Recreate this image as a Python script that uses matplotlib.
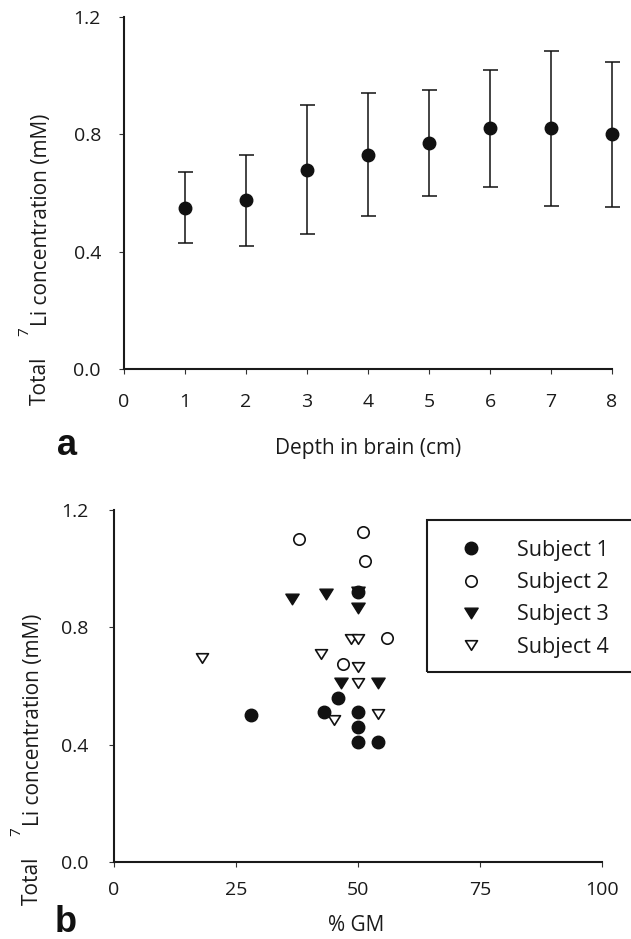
import matplotlib
matplotlib.use("Agg")
import matplotlib.pyplot as plt
from matplotlib.patches import Rectangle
from matplotlib.path import Path

plt.rcParams['font.family'] = ['Open Sans', 'DejaVu Sans']

# ---------------- data ----------------
depth = [1, 2, 3, 4, 5, 6, 7, 8]
li_mean = [0.55, 0.575, 0.68, 0.73, 0.77, 0.82, 0.82, 0.80]
li_err = [0.12, 0.155, 0.22, 0.21, 0.18, 0.20, 0.265, 0.248]

s1_gm = [28, 43, 46, 50, 50, 50, 54, 50]
s1_li = [0.50, 0.51, 0.56, 0.51, 0.46, 0.41, 0.41, 0.92]
s2_gm = [38, 51, 51.5, 56, 47]
s2_li = [1.10, 1.125, 1.025, 0.765, 0.675]
s3_gm = [36.5, 43.5, 50, 50, 46.5, 54]
s3_li = [0.895, 0.915, 0.92, 0.865, 0.61, 0.61]
s4_gm = [18, 48.5, 50, 42.5, 50, 50, 45, 54]
s4_li = [0.695, 0.76, 0.76, 0.71, 0.665, 0.61, 0.485, 0.505]

labels = ['Subject 1', 'Subject 2', 'Subject 3', 'Subject 4']
yticks = [0.0, 0.4, 0.8, 1.2]
xticks_a = list(range(0, 9))
xticks_b = [0, 25, 50, 75, 100]

W, H = 631, 939
fig = plt.figure(figsize=(W / 100, H / 100), dpi=100)


def fx(px):
    return px / W


def fy(py):
    return 1 - py / H


def style_axes(ax, xpad, ypad):
    for s in ['top', 'right']:
        ax.spines[s].set_visible(False)
    for s in ['left', 'bottom']:
        ax.spines[s].set_linewidth(1.5)
        ax.spines[s].set_color('#1a1a1a')
    ax.tick_params(axis='both', direction='out', length=3.6, width=0.8,
                   color='#333333', labelsize=14, labelcolor='#1a1a1a')
    ax.tick_params(axis='x', pad=xpad)
    ax.tick_params(axis='y', pad=ypad)


# ---------------- panel a ----------------
ax1 = fig.add_axes([fx(124), fy(369), fx(612) - fx(124), fy(17) - fy(369)])
ax1.errorbar(depth, li_mean, yerr=li_err, fmt='o', color='#111111',
             ms=9, elinewidth=1.1, capsize=5.4, capthick=1.1, clip_on=False)
ax1.set_xlim(0, 8)
ax1.set_ylim(0, 1.2)
ax1.set_xticks(xticks_a)
ax1.set_yticks(yticks)
ax1.set_yticklabels([f'{v:.1f}' for v in yticks])
style_axes(ax1, 14, 13)

# ---------------- panel b ----------------
ax2 = fig.add_axes([fx(114), fy(862), fx(602) - fx(114), fy(510) - fy(862)])
tri = Path([(-1, 0.8), (1, 0.8), (0, -0.8), (-1, 0.8)],
           [Path.MOVETO, Path.LINETO, Path.LINETO, Path.CLOSEPOLY])
h3, = ax2.plot(s3_gm, s3_li, linestyle='none', marker=tri, ms=9.6,
               color='#111111', mec='#111111', clip_on=False)
h1, = ax2.plot(s1_gm, s1_li, linestyle='none', marker='o', ms=9,
               color='#111111', mec='#111111', clip_on=False)
h2, = ax2.plot(s2_gm, s2_li, linestyle='none', marker='o', ms=8.2,
               mfc='white', mec='#111111', mew=1.2, clip_on=False)
h4, = ax2.plot(s4_gm, s4_li, linestyle='none', marker=tri, ms=8.6,
               mfc='white', mec='#111111', mew=1.2, clip_on=False)
ax2.set_xlim(0, 100)
ax2.set_ylim(0, 1.2)
ax2.set_xticks(xticks_b)
ax2.set_yticks(yticks)
ax2.set_yticklabels([f'{v:.1f}' for v in yticks])
style_axes(ax2, 10, 15)

leg = ax2.legend([h1, h2, h3, h4], labels, loc='upper left',
                 bbox_to_anchor=(fx(460), fy(540)),
                 bbox_transform=fig.transFigure, frameon=False,
                 fontsize=15.5, handlelength=1.0, handletextpad=1.65,
                 labelspacing=0.52, borderpad=0, borderaxespad=0)
for t in leg.get_texts():
    t.set_color('#1a1a1a')
fig.add_artist(Rectangle((fx(427), fy(672)), fx(650) - fx(427), fy(520) - fy(672),
                         transform=fig.transFigure, fill=False,
                         lw=1.5, ec='#1a1a1a'))

# ---------------- labels ----------------
txt_kw = dict(rotation=90, rotation_mode='anchor', color='#1a1a1a')
# panel a y label
fig.text(fx(46), fy(405), 'Total', fontsize=15, ha='left', va='baseline', **txt_kw)
fig.text(fx(28), fy(336), '7', fontsize=11, ha='left', va='baseline', **txt_kw)
fig.text(fx(47), fy(326), 'Li concentration (mM)', fontsize=15, ha='left',
         va='baseline', **txt_kw)
# panel b y label
fig.text(fx(38), fy(905), 'Total', fontsize=15, ha='left', va='baseline', **txt_kw)
fig.text(fx(20), fy(836), '7', fontsize=11, ha='left', va='baseline', **txt_kw)
fig.text(fx(39), fy(826), 'Li concentration (mM)', fontsize=15, ha='left',
         va='baseline', **txt_kw)

fig.text(fx(368), fy(454), 'Depth in brain (cm)', fontsize=15, ha='center',
         va='baseline', color='#1a1a1a')
fig.text(fx(356), fy(931), '% GM', fontsize=15, ha='center', va='baseline',
         color='#1a1a1a')

fig.text(fx(67), fy(455), 'a', fontsize=26, fontweight='bold',
         family='Liberation Sans', ha='center', va='baseline', color='#111111')
fig.text(fx(66), fy(932), 'b', fontsize=26, fontweight='bold',
         family='Liberation Sans', ha='center', va='baseline', color='#111111')

fig.savefig('out.png', dpi=100)
